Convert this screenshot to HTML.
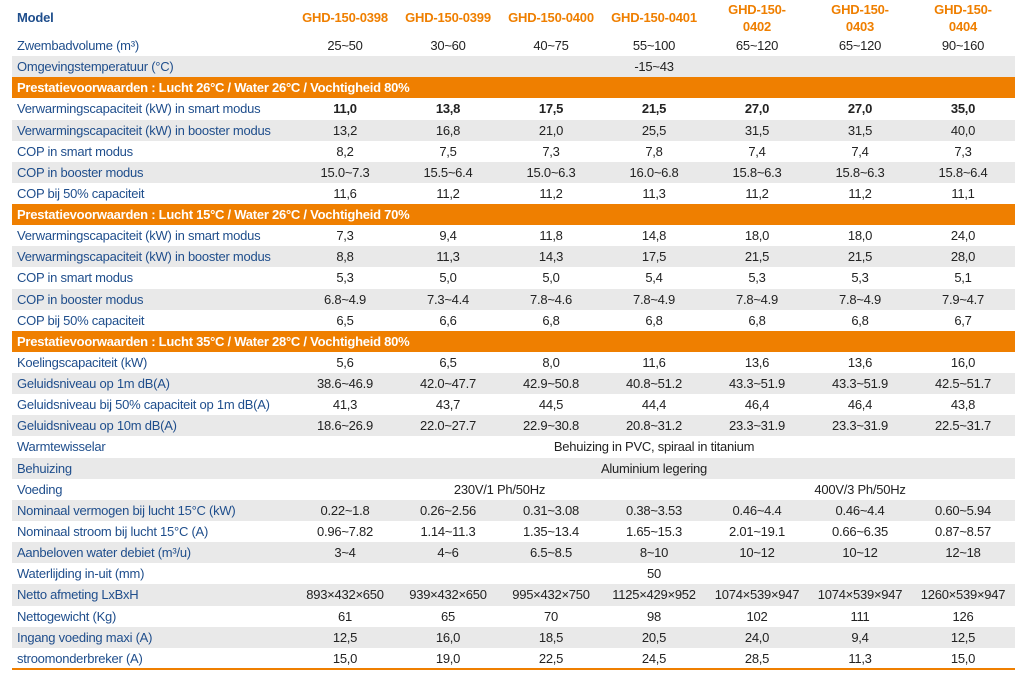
<!DOCTYPE html>
<html><head><meta charset="utf-8"><style>
body{margin:0;width:1024px;height:679px;background:#fff;overflow:hidden;font-family:"Liberation Sans",sans-serif;}
#t{position:absolute;left:0;top:0;width:1024px;height:679px;}
.row{position:absolute;left:12px;width:1003px;height:21.13px;}
.g{background:#e9e9e9;}
.o{background:#ef7f00;}
.c{position:absolute;top:0;height:21.13px;line-height:21.13px;font-size:13px;letter-spacing:-0.25px;white-space:nowrap;}
.lab{left:5px;color:#1f4e8c;}
.val{text-align:center;color:#222;}
.sec{left:5px;color:#fff;font-weight:bold;}
.hd{position:absolute;top:0;height:35px;display:flex;align-items:center;justify-content:center;text-align:center;color:#ef7f00;font-weight:bold;font-size:13px;line-height:17px;letter-spacing:-0.2px;}
#bottom{position:absolute;left:12px;top:668px;width:1003px;height:2px;background:#ef7f00;}
</style></head><body>
<div id="t">
<div class="hd" style="left:17px;width:120px;justify-content:flex-start;color:#1f4e8c;">Model</div>
</div>
<div id="bottom"></div>
<script>
const models=["GHD-150-0398","GHD-150-0399","GHD-150-0400","GHD-150-0401","GHD-150-<br>0402","GHD-150-<br>0403","GHD-150-<br>0404"];
// rows: [type, label, values or spans, gray]
const rows=[
["r","Zwembadvolume (m³)",["25~50","30~60","40~75","55~100","65~120","65~120","90~160"],0],
["r","Omgevingstemperatuur (°C)",[["-15~43",0,7]],1],
["s","Prestatievoorwaarden : Lucht 26°C / Water 26°C / Vochtigheid 80%"],
["b","Verwarmingscapaciteit (kW) in smart modus",["11,0","13,8","17,5","21,5","27,0","27,0","35,0"],0],
["r","Verwarmingscapaciteit (kW) in booster modus",["13,2","16,8","21,0","25,5","31,5","31,5","40,0"],1],
["r","COP in smart modus",["8,2","7,5","7,3","7,8","7,4","7,4","7,3"],0],
["r","COP in booster modus",["15.0~7.3","15.5~6.4","15.0~6.3","16.0~6.8","15.8~6.3","15.8~6.3","15.8~6.4"],1],
["r","COP bij 50% capaciteit",["11,6","11,2","11,2","11,3","11,2","11,2","11,1"],0],
["s","Prestatievoorwaarden : Lucht 15°C / Water 26°C / Vochtigheid 70%"],
["r","Verwarmingscapaciteit (kW) in smart modus",["7,3","9,4","11,8","14,8","18,0","18,0","24,0"],0],
["r","Verwarmingscapaciteit (kW) in booster modus",["8,8","11,3","14,3","17,5","21,5","21,5","28,0"],1],
["r","COP in smart modus",["5,3","5,0","5,0","5,4","5,3","5,3","5,1"],0],
["r","COP in booster modus",["6.8~4.9","7.3~4.4","7.8~4.6","7.8~4.9","7.8~4.9","7.8~4.9","7.9~4.7"],1],
["r","COP bij 50% capaciteit",["6,5","6,6","6,8","6,8","6,8","6,8","6,7"],0],
["s","Prestatievoorwaarden : Lucht 35°C / Water 28°C / Vochtigheid 80%"],
["r","Koelingscapaciteit (kW)",["5,6","6,5","8,0","11,6","13,6","13,6","16,0"],0],
["r","Geluidsniveau op 1m dB(A)",["38.6~46.9","42.0~47.7","42.9~50.8","40.8~51.2","43.3~51.9","43.3~51.9","42.5~51.7"],1],
["r","Geluidsniveau bij 50% capaciteit op 1m dB(A)",["41,3","43,7","44,5","44,4","46,4","46,4","43,8"],0],
["r","Geluidsniveau op 10m dB(A)",["18.6~26.9","22.0~27.7","22.9~30.8","20.8~31.2","23.3~31.9","23.3~31.9","22.5~31.7"],1],
["r","Warmtewisselar",[["Behuizing in PVC, spiraal in titanium",0,7]],0],
["r","Behuizing",[["Aluminium legering",0,7]],1],
["r","Voeding",[["230V/1 Ph/50Hz",0,4],["400V/3 Ph/50Hz",4,3]],0],
["r","Nominaal vermogen bij lucht 15°C (kW)",["0.22~1.8","0.26~2.56","0.31~3.08","0.38~3.53","0.46~4.4","0.46~4.4","0.60~5.94"],1],
["r","Nominaal stroom bij lucht 15°C (A)",["0.96~7.82","1.14~11.3","1.35~13.4","1.65~15.3","2.01~19.1","0.66~6.35","0.87~8.57"],0],
["r","Aanbeloven water debiet (m³/u)",["3~4","4~6","6.5~8.5","8~10","10~12","10~12","12~18"],1],
["r","Waterlijding in-uit (mm)",[["50",0,7]],0],
["r","Netto afmeting LxBxH",["893×432×650","939×432×650","995×432×750","1125×429×952","1074×539×947","1074×539×947","1260×539×947"],1],
["r","Nettogewicht (Kg)",["61","65","70","98","102","111","126"],0],
["r","Ingang voeding maxi (A)",["12,5","16,0","18,5","20,5","24,0","9,4","12,5"],1],
["r","stroomonderbreker (A)",["15,0","19,0","22,5","24,5","28,5","11,3","15,0"],0]
];
const T=document.getElementById('t');
const X0=293.5, CW=103, TOP=35, RH=21.13;
models.forEach((m,i)=>{
  const d=document.createElement('div');
  d.className='hd';
  
  
  d.style.left=(X0+i*CW)+'px';d.style.width=CW+'px';
  d.innerHTML=m;T.appendChild(d);
});
rows.forEach((r,i)=>{
  const row=document.createElement('div');
  row.className='row'+(r[0]==='s'?' o':(r[3]?' g':''));
  
  
  row.style.top=(TOP+i*RH)+'px';
  const l=document.createElement('div');
  l.className='c '+(r[0]==='s'?'sec':'lab');
  
  
  l.textContent=r[1];row.appendChild(l);
  if(r[0]!=='s'){
    r[2].forEach((v,j)=>{
      const c=document.createElement('div');
      c.className='c val';
      
      
      let s=j,n=1,t=v;
      if(Array.isArray(v)){t=v[0];s=v[1];n=v[2];}
      c.style.left=(X0-12+s*CW)+'px';c.style.width=(n*CW)+'px';
      if(r[0]==='b')c.style.fontWeight='bold';
      c.textContent=t;row.appendChild(c);
    });
  }
  T.appendChild(row);
});
</script>
</body></html>
